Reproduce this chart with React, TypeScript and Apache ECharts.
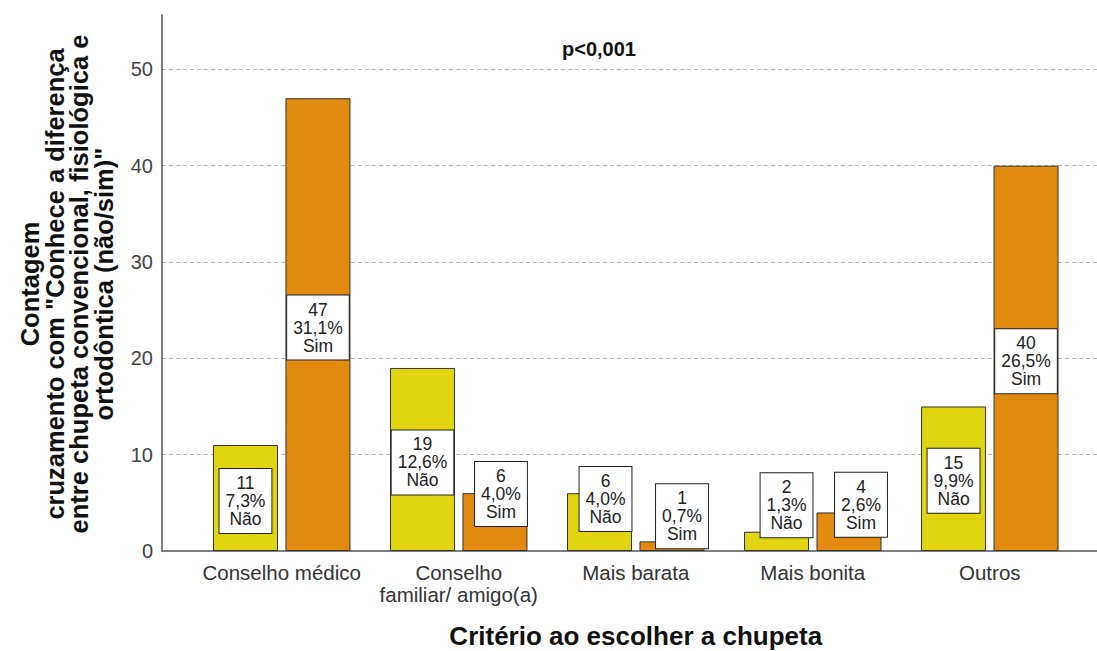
import React, { useEffect, useRef } from "react";
import * as echarts from "echarts";

const categories = ["Conselho médico", "Conselho\nfamiliar/ amigo(a)", "Mais barata", "Mais bonita", "Outros"];
const naoCounts = [11, 19, 6, 2, 15];
const simCounts = [47, 6, 1, 4, 40];
const naoPercents = ["7,3%", "12,6%", "4,0%", "1,3%", "9,9%"];
const simPercents = ["31,1%", "4,0%", "0,7%", "2,6%", "26,5%"];
const naoName = "Não";
const simName = "Sim";
const yMin = 0;
const yMax = 55.64;
const yInterval = 10;
const xTitle = "Critério ao escolher a chupeta";
const yTitle = 'Contagem\ncruzamento com "Conhece a diferença\nentre chupeta convencional, fisiológica e\nortodôntica (não/sim)"';
const pText = "p<0,001";

const naoOffsets = [[0, 3], [0, 3], [6, -23], [10, -36], [0, 2]];
const simOffsets = [[0, 3], [6, -28], [10, -30], [12, -27], [0, 3]];

const FONT = "'Liberation Sans', Arial, sans-serif";

const labelStyle = {
  show: true,
  position: "inside",
  color: "#222",
  fontFamily: FONT,
  fontSize: 17.5,
  lineHeight: 18,
  backgroundColor: "#fff",
  borderColor: "#222",
  borderWidth: 1,
  padding: [5, 6, 5, 6],
  align: "center",
  verticalAlign: "middle",
};

export default function App() {
  const ref = useRef<HTMLDivElement>(null);
  useEffect(() => {
    if (!ref.current) return;
    const chart = echarts.init(ref.current, null, { renderer: "svg" });
    const makeData = (counts: number[], percents: string[], offsets: number[][], name: string) =>
      counts.map((v, i) => ({
        value: v,
        label: {
          ...labelStyle,
          offset: offsets[i],
          formatter: `${v}\n${percents[i]}\n${name}`,
        },
      }));
    chart.setOption({
      animation: false,
      backgroundColor: "#fff",
      grid: [
        { left: 193.2, right: 18.7, top: 15, bottom: 100, containLabel: false, outerBoundsMode: "none" },
        { left: 162, right: 0, top: 15, bottom: 100, containLabel: false, outerBoundsMode: "none" },
      ],
      xAxis: [
        {
          gridIndex: 0,
          type: "category",
          data: categories,
          axisLine: { show: false },
          axisTick: { show: false },
          axisLabel: {
            color: "#333",
            fontFamily: FONT,
            fontSize: 20.5,
            lineHeight: 22,
            margin: 10,
            interval: 0,
          },
          name: xTitle,
          nameLocation: "middle",
          nameGap: 72,
          nameTextStyle: {
            color: "#111",
            fontFamily: FONT,
            fontSize: 26,
            fontWeight: "bold",
          },
        },
        {
          gridIndex: 1,
          type: "value",
          min: 0,
          max: 1,
          axisLine: { show: true, lineStyle: { color: "#555", width: 1.5 } },
          axisTick: { show: false },
          axisLabel: { show: false },
          splitLine: { show: false },
        },
      ],
      yAxis: [
        {
          gridIndex: 0,
          type: "value",
          min: yMin,
          max: yMax,
          show: false,
          splitLine: { show: false },
        },
        {
          gridIndex: 1,
          type: "value",
          min: yMin,
          max: yMax,
          interval: yInterval,
          axisLine: { show: true, lineStyle: { color: "#555", width: 1.5 } },
          axisTick: { show: false },
          axisLabel: {
            color: "#444",
            fontFamily: FONT,
            fontSize: 20,
            margin: 9,
            showMaxLabel: false,
            formatter: (v: number) => (v % yInterval === 0 ? String(v) : ""),
          },
          splitLine: {
            show: true,
            showMinLine: false,
            showMaxLine: false,
            lineStyle: { color: "#b4b4b4", type: [4, 3], width: 1 },
          },
        },
      ],
      graphic: [
        {
          type: "text",
          x: 67,
          y: 284,
          rotation: Math.PI / 2,
          style: {
            text: yTitle,
            fill: "#111",
            font: `bold 25.5px ${FONT}`,
            lineHeight: 24.7,
            textAlign: "center",
            textVerticalAlign: "middle",
          },
        },
        {
          type: "text",
          x: 599,
          y: 49,
          style: {
            text: pText,
            fill: "#111",
            font: `bold 20px ${FONT}`,
            textAlign: "center",
            textVerticalAlign: "middle",
          },
        },
      ],
      series: [
        {
          name: naoName,
          type: "bar",
          xAxisIndex: 0,
          yAxisIndex: 0,
          barWidth: 65,
          barGap: "11.5%",
          itemStyle: { color: "#e1d512", borderColor: "#333", borderWidth: 1 },
          data: makeData(naoCounts, naoPercents, naoOffsets, naoName),
        },
        {
          name: simName,
          type: "bar",
          xAxisIndex: 0,
          yAxisIndex: 0,
          barWidth: 65,
          barGap: "11.5%",
          itemStyle: { color: "#e08b10", borderColor: "#333", borderWidth: 1 },
          data: makeData(simCounts, simPercents, simOffsets, simName),
        },
      ],
    });
    return () => chart.dispose();
  }, []);
  return <div ref={ref} style={{ width: 1097, height: 651, position: "absolute", left: 0, top: 0 }} />;
}
